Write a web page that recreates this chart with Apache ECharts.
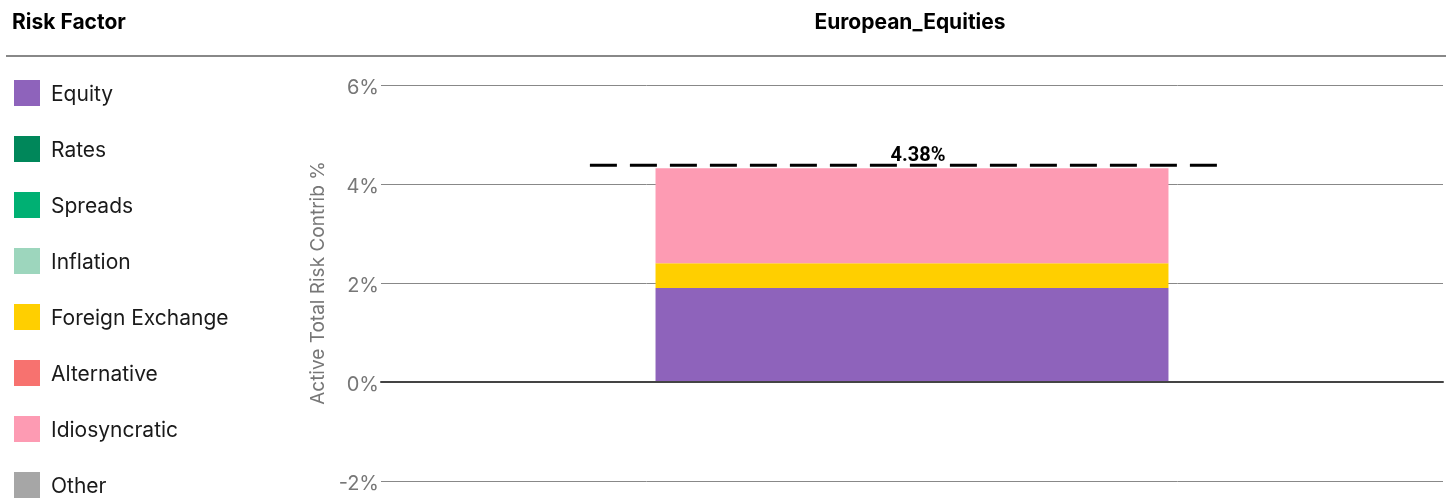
<!DOCTYPE html>
<html>
<head>
<meta charset="utf-8">
<style>
  html, body { margin: 0; padding: 0; background: #fff; }
  #main { width: 1452px; height: 499px; }
</style>
<script src="https://cdn.jsdelivr.net/npm/echarts@6/dist/echarts.min.js"></script>
</head>
<body>
<div id="main"></div>
<script>
const categories = ["European_Equities"];
const factors = ["Equity", "Rates", "Spreads", "Inflation", "Foreign Exchange", "Alternative", "Idiosyncratic", "Other"];
const colors = ["#8e63bb", "#00875a", "#00b073", "#9dd6bd", "#ffcf00", "#f7726f", "#fd9bb3", "#a6a6a6"];
// contribution per factor, % (null = nothing drawn)
const values = [1.90, null, null, null, 0.50, null, 1.92, null];
const totals = [4.38];
const yTicks = { min: -2, max: 6, interval: 2 };

const chart = echarts.init(document.getElementById("main"));

const font = "Inter, 'Noto Sans', sans-serif";

const series = factors.map((name, i) => ({
  name: name,
  type: "bar",
  stack: "total",
  barWidth: "48.3%",
  itemStyle: { color: colors[i] },
  data: [values[i] === null ? "-" : values[i]]
}));

// dashed total marker with its label
series.push({
  name: "Total",
  type: "custom",
  z: 5,
  data: totals.map((t, i) => [i, t]),
  renderItem: function (params, api) {
    const p = api.coord([api.value(0), api.value(1)]);
    const bw = api.size([1, 0])[0];
    return {
      type: "group",
      children: [
        {
          type: "line",
          shape: { x1: p[0] - bw * 0.3033, y1: p[1], x2: p[0] + bw * 0.2873, y2: p[1] },
          style: { stroke: "#000", lineWidth: 3, lineDash: [27, 13] }
        },
        {
          type: "text",
          x: p[0] + 6,
          y: p[1] + 1,
          style: {
            text: api.value(1).toFixed(2) + "%",
            fill: "#000",
            font: "bold 20px Roboto, sans-serif",
            textAlign: "center",
            textVerticalAlign: "bottom"
          }
        }
      ]
    };
  }
});

const option = {
  animation: false,
  title: [
    {
      text: "Risk Factor",
      left: 12,
      top: 12,
      padding: 0,
      textStyle: { fontFamily: font, fontSize: 21, fontWeight: "bold", color: "#000" }
    },
    {
      text: categories[0],
      left: 910,
      top: 12,
      padding: 0,
      textAlign: "center",
      textStyle: { fontFamily: font, fontSize: 21, fontWeight: "bold", color: "#000" }
    }
  ],
  graphic: [
    {
      type: "line",
      shape: { x1: 6, y1: 56, x2: 1446, y2: 56 },
      style: { stroke: "#888", lineWidth: 2 }
    }
  ],
  legend: {
    orient: "vertical",
    left: 14,
    top: 80,
    height: 430,
    padding: 0,
    itemWidth: 26,
    itemHeight: 26,
    itemGap: 30,
    icon: "rect",
    data: factors,
    formatter: name => "{t|" + name + "}",
    textStyle: {
      rich: {
        t: { fontFamily: font, fontSize: 21, color: "#1a1a1a", padding: [4, 0, 0, 6] }
      }
    }
  },
  grid: {
    left: 381,
    right: 9,
    top: 85,
    bottom: 18
  },
  xAxis: {
    type: "category",
    data: categories,
    z: 3,
    axisLine: { onZero: true, lineStyle: { color: "#444", width: 2 } },
    axisTick: { show: false },
    axisLabel: { show: false }
  },
  yAxis: {
    type: "value",
    min: yTicks.min,
    max: yTicks.max,
    interval: yTicks.interval,
    name: "Active Total Risk Contrib %",
    nameLocation: "middle",
    nameGap: 52,
    nameTextStyle: { fontFamily: font, fontSize: 19, color: "#777" },
    axisLine: { show: false },
    axisTick: { show: false },
    axisLabel: {
      margin: 2,
      formatter: v => "{l|" + v + "%}",
      rich: {
        l: { fontFamily: font, fontSize: 20, color: "#777", padding: [6, 0, 0, 0] }
      }
    },
    splitLine: { lineStyle: { color: "#888", width: 1 } }
  },
  series: series
};

option && chart.setOption(option);
</script>
</body>
</html>
